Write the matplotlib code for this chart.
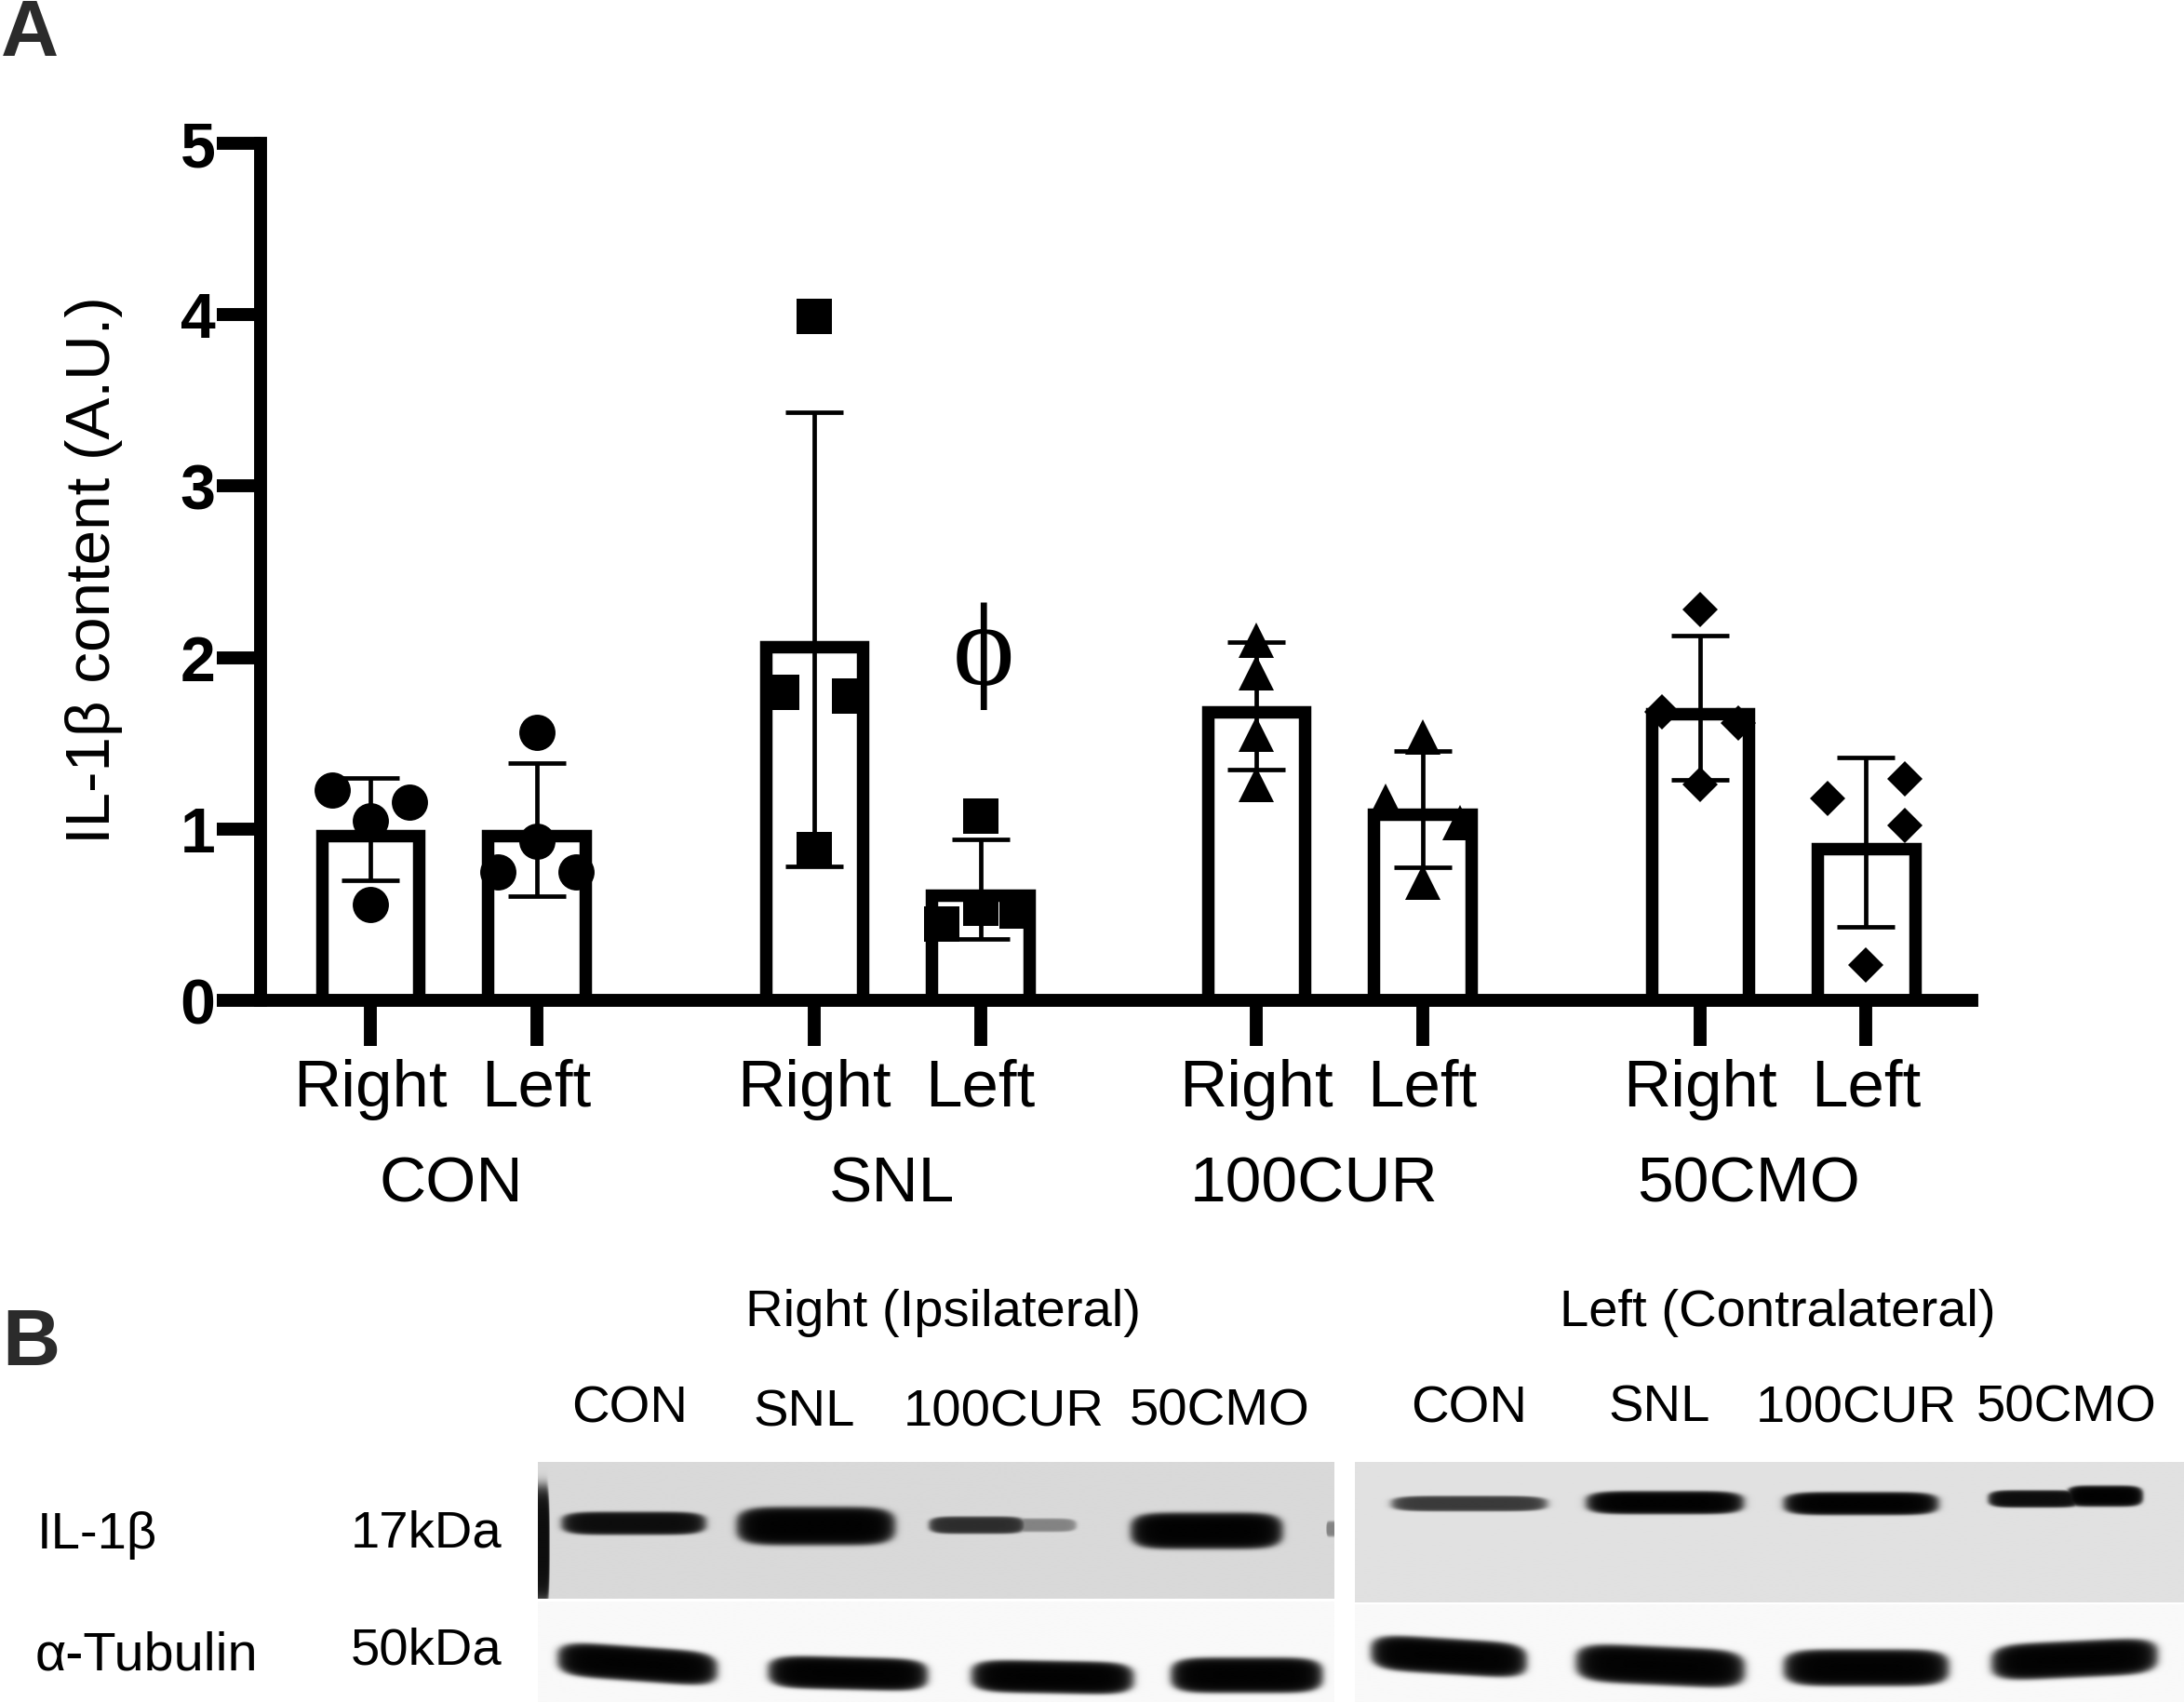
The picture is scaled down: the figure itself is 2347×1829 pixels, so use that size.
import numpy as np
import matplotlib
matplotlib.use('Agg')
import matplotlib.pyplot as plt

plt.rcParams['font.family'] = ['Liberation Sans', 'DejaVu Sans']

W, H = 2347, 1829

# Chart data
groups = ['CON', 'SNL', '100CUR', '50CMO']
sides = ['Right', 'Left'] * 4
x_pos = [1, 2, 3.67, 4.67, 6.33, 7.33, 9, 10]
means = [1.0, 1.0, 2.1, 0.65, 1.72, 1.12, 1.71, 0.92]
err_top = [1.295, 1.384, 3.43, 0.94, 2.09, 1.456, 2.13, 1.415]
err_low = [0.70, 0.61, 0.783, 0.357, 1.344, 0.778, 1.285, 0.428]
points = [
    [1.226, 1.155, 1.048, 0.56],
    [1.5625, 0.93, 0.75, 0.75],
    [3.99, 1.795, 1.777, 0.88],
    [1.077, 0.446, 0.536, 0.52],
    [2.10, 1.91, 1.555, 1.257],
    [1.536, 1.164, 1.034, 0.69],
    [2.28, 1.685, 1.62, 1.257],
    [1.29, 1.179, 1.019, 0.205],
]
point_dx = [
    [-0.23, 0.233, 0, 0],
    [0, 0, -0.232, 0.24],
    [0, -0.197, 0.214, 0],
    [0, -0.232, 0, 0.22],
    [0, 0, 0, 0],
    [0, -0.22, 0.225, 0],
    [0, -0.23, 0.23, 0],
    [0.23, -0.23, 0.23, 0],
]
markers = ['o', 'o', 's', 's', '^', '^', 'D', 'D']
marker_sizes = {'o': 28, 's': 27.5, '^': 27, 'D': 19.2}

# Blot bands: x start, x end, y centre, thickness, darkness, tilt (pixels of the full figure)
bands_right_il = [
    (604, 757, 1637, 24, 0.95, 0),
    (792, 960, 1640, 40, 1.0, 0),
    (998, 1100, 1639, 18, 0.8, 0),
    (1075, 1155, 1639, 14, 0.4, 0),
    (1215, 1376, 1645, 38, 1.0, 0),
    (1424, 1437, 1643, 16, 0.4, 0),
    (572, 590, 1660, 125, 0.95, 0),
]
bands_left_il = [
    (1496, 1661, 1616, 16, 0.75, 0),
    (1705, 1872, 1615, 24, 1.0, 0),
    (1917, 2081, 1616, 24, 1.0, 0),
    (2136, 2235, 1611, 18, 0.95, 0),
    (2220, 2301, 1608, 22, 1.0, 0),
]
bands_right_tub = [
    (600, 769, 1788, 36, 1.0, 12),
    (826, 995, 1798, 34, 1.0, 4),
    (1044, 1216, 1802, 34, 1.0, 3),
    (1258, 1419, 1800, 37, 1.0, 0),
]
bands_left_tub = [
    (1474, 1639, 1780, 37, 1.0, 10),
    (1694, 1873, 1790, 40, 1.0, 8),
    (1917, 2092, 1792, 38, 1.0, 0),
    (2140, 2316, 1783, 38, 1.0, -8),
]
panels = [
    (578, 1433, 1572, 1718, 0.85, bands_right_il),
    (1456, 2347, 1572, 1722, 0.88, bands_left_il),
    (578, 1433, 1722, 1829, 0.975, bands_right_tub),
    (1456, 2347, 1725, 1829, 0.975, bands_left_tub),
]


def blot_image(x0, x1, y0, y1, bg, bands):
    xx, yy = np.meshgrid(np.arange(x0, x1), np.arange(y0, y1))
    ink = np.zeros(xx.shape)
    for bx0, bx1, by, th, dark, tilt in bands:
        mid = (bx0 + bx1) / 2
        yc = by + tilt * (xx - mid) / (bx1 - bx0)
        # soft rounded blob
        d = (np.abs(xx - mid) / ((bx1 - bx0) / 2)) ** 6 + (np.abs(yy - yc) / (th / 2)) ** 3
        ink = np.maximum(ink, dark * 0.5 * (1 - np.tanh((d - 1) / 0.45)))
    return bg * (1 - ink)


fig = plt.figure(figsize=(23.471, 18.291), dpi=100, facecolor='white')


def px(x, y):
    return x / W, 1 - y / H


# Blots go on a full-figure axes in pixel coordinates
bg_ax = fig.add_axes([0, 0, 1, 1])
for x0, x1, y0, y1, bg, bands in panels:
    bg_ax.imshow(blot_image(x0, x1, y0, y1, bg, bands), cmap='gray', vmin=0, vmax=1,
                 extent=(x0, x1, y1, y0), aspect='auto', interpolation='bilinear')
bg_ax.set_xlim(0, W)
bg_ax.set_ylim(H, 0)
bg_ax.axis('off')

# Bar chart
left, right, top, bottom = 280, 2119, 154, 1075
ax = fig.add_axes([left / W, 1 - bottom / H, (right - left) / W, (bottom - top) / H])
ax.patch.set_alpha(0)
unit_x = 178.6
ax.set_xlim(1 - (398 - left) / unit_x, 1 + (right - 398) / unit_x)
ax.set_ylim(0, 5)

half_stroke = 6.75 / 184  # the bar's outline sits inside its value
ax.bar(x_pos, np.array(means) - half_stroke, width=0.585, facecolor='none',
       edgecolor='black', linewidth=9.7, zorder=2)

for i, x in enumerate(x_pos):
    ax.errorbar(x, means[i], yerr=[[means[i] - err_low[i]], [err_top[i] - means[i]]],
                ecolor='black', elinewidth=3.4, capsize=22, capthick=3.4, fmt='none', zorder=3)
    xs = [x + d for d in point_dx[i]]
    ax.plot(xs, points[i], linestyle='none', marker=markers[i], color='black',
            markersize=marker_sizes[markers[i]], markeredgewidth=0, zorder=4)

for s in ['top', 'right']:
    ax.spines[s].set_visible(False)
for s in ['left', 'bottom']:
    ax.spines[s].set_linewidth(10)

ax.set_yticks([0, 1, 2, 3, 4, 5])
ax.set_yticklabels(['0', '1', '2', '3', '4', '5'], fontsize=49, fontweight='bold')
ax.tick_params(axis='y', length=34, width=10, pad=1)
ax.set_xticks(x_pos)
ax.set_xticklabels(sides, fontsize=51)
ax.tick_params(axis='x', length=35, width=10, pad=10)

fig.text(*px(101, 613), 'IL-1β content (A.U.)', fontsize=48.5, rotation=90, ha='center', va='center')

# Group names under the bars
for name, cx in zip(groups, [485, 958, 1412, 1879]):
    fig.text(*px(cx, 1291), name, fontsize=50, ha='center', va='baseline')

# Significance mark
fig.text(*px(1057, 705), 'ϕ', fontsize=91, ha='center', va='center',
         family=['Liberation Serif', 'DejaVu Serif'])

# Panel letters
fig.text(*px(1, 60), 'A', fontsize=62, fontweight='bold', color='#2b2b2b', ha='left', va='baseline')
fig.text(*px(2, 1467), 'B', fontsize=62, fontweight='bold', color='#2b2b2b', ha='left', va='baseline')

# Blot labels
fig.text(*px(1013, 1411), 'Right (Ipsilateral)', fontsize=40.5, ha='center', va='center')
fig.text(*px(1910, 1411), 'Left (Contralateral)', fontsize=40.5, ha='center', va='center')
for name, cx, cy in zip(groups, [677, 864, 1079, 1311], [1514, 1518, 1518, 1517]):
    fig.text(*px(cx, cy), name, fontsize=40.5, ha='center', va='center')
for name, cx, cy in zip(groups, [1579, 1783, 1995, 2221], [1514, 1513, 1514, 1513]):
    fig.text(*px(cx, cy), name, fontsize=40.5, ha='center', va='center')
fig.text(*px(40, 1650), 'IL-1β', fontsize=40.5, ha='left', va='center')
fig.text(*px(377, 1648), '17kDa', fontsize=40.5, ha='left', va='center')
fig.text(*px(38, 1779), 'α-Tubulin', fontsize=41.5, ha='left', va='center')
fig.text(*px(377, 1774), '50kDa', fontsize=40.5, ha='left', va='center')

fig.savefig('out.png', dpi=100, facecolor='white')
